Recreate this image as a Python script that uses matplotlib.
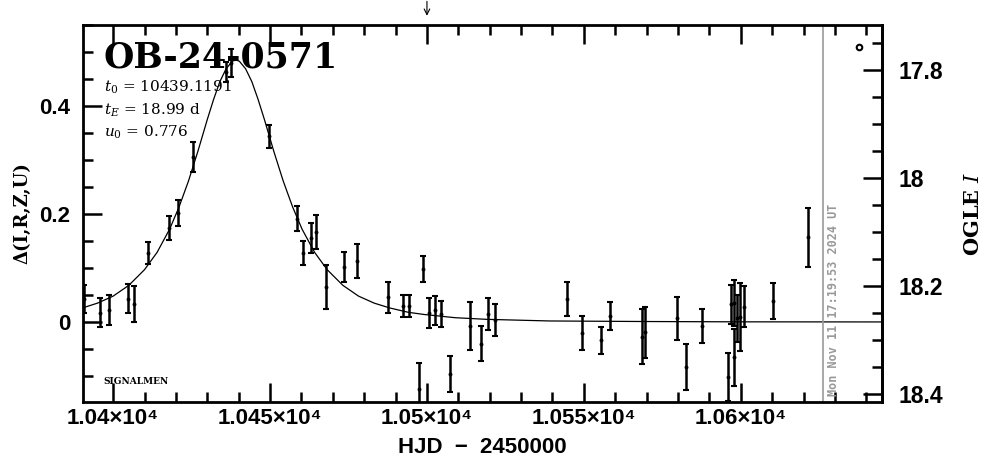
import matplotlib
matplotlib.use('Agg')
import matplotlib.pyplot as plt
from matplotlib.ticker import MultipleLocator

# OGLE photometry: HJD-2450000, delta (mag above baseline), error
hjd = [10390.8, 10395.9, 10398.7, 10404.8, 10406.7, 10411.1, 10417.8, 10420.7,
       10425.5, 10436.0, 10437.6, 10449.7, 10458.6, 10460.5, 10463.1, 10464.6,
       10467.8, 10473.6, 10477.7, 10487.6, 10492.4, 10494.3, 10497.5, 10498.7,
       10500.6, 10502.5, 10504.5, 10507.3, 10513.7, 10517.2, 10519.4, 10521.7,
       10544.6, 10549.4, 10555.4, 10558.3, 10568.5, 10569.4, 10579.6, 10582.5,
       10587.6, 10595.9, 10596.8, 10597.8, 10597.9, 10598.9, 10599.9, 10601.0,
       10610.2, 10621.3]
delta = [0.043, 0.017, 0.022, 0.043, 0.033, 0.128, 0.174, 0.202,
         0.306, 0.463, 0.480, 0.344, 0.191, 0.128, 0.156, 0.167,
         0.065, 0.102, 0.113, 0.046, 0.030, 0.030, -0.124, 0.098,
         0.017, 0.022, 0.015, -0.096, -0.007, -0.040, 0.015, 0.004,
         0.043, -0.020, -0.034, 0.011, -0.027, -0.019, 0.007, -0.083,
         -0.007, -0.102, 0.033, 0.035, -0.065, 0.007, 0.009, 0.028,
         0.039, 0.157]
delta_err = [0.026, 0.027, 0.028, 0.027, 0.033, 0.021, 0.023, 0.024,
             0.028, 0.019, 0.026, 0.021, 0.023, 0.022, 0.028, 0.032,
             0.041, 0.027, 0.032, 0.029, 0.020, 0.020, 0.048, 0.024,
             0.028, 0.027, 0.024, 0.034, 0.045, 0.032, 0.030, 0.029,
             0.031, 0.031, 0.025, 0.026, 0.051, 0.047, 0.040, 0.043,
             0.031, 0.045, 0.036, 0.042, 0.053, 0.044, 0.063, 0.038,
             0.033, 0.055]

# model curve
model_t = [10389.1, 10395.0, 10400.0, 10405.0, 10410.0, 10414.0, 10418.0, 10421.0,
           10424.0, 10427.0, 10430.0, 10432.0, 10434.0, 10436.0, 10438.0, 10439.1,
           10440.2, 10442.2, 10444.2, 10446.2, 10448.2, 10451.2, 10454.2, 10457.2,
           10460.2, 10464.2, 10468.2, 10473.2, 10478.2, 10483.2, 10488.2, 10494.1,
           10499.1, 10504.1, 10509.1, 10519.1, 10539.1, 10569.1, 10599.1, 10645.0]
model_d = [0.024, 0.035, 0.048, 0.068, 0.097, 0.129, 0.172, 0.213,
           0.261, 0.316, 0.375, 0.412, 0.445, 0.469, 0.483, 0.485,
           0.483, 0.469, 0.445, 0.412, 0.375, 0.316, 0.261, 0.213,
           0.172, 0.129, 0.097, 0.068, 0.048, 0.035, 0.026, 0.018,
           0.014, 0.011, 0.008, 0.005, 0.002, 0.001, 0.0004, 0.0002]

event = 'OB-24-0571'
params = ['$t_0$ = 10439.1191', '$t_E$ = 18.99 d', '$u_0$ = 0.776']
xticks = [10400, 10450, 10500, 10550, 10600]
xtick_labels = ['1.04×10⁴', '1.045×10⁴', '1.05×10⁴', '1.055×10⁴', '1.06×10⁴']
yticks = [0, 0.2, 0.4]
ytick_labels = ['0', '0.2', '0.4']
magticks = [17.8, 18.0, 18.2, 18.4]
magtick_labels = ['17.8', '18', '18.2', '18.4']
base_mag = 18.267
now_hjd = 10626.2
now_label = 'Mon Nov 11 17:19:53 2024 UT'
arrow_hjd = 10500

plt.rcParams['font.family'] = ['Liberation Sans', 'DejaVu Sans']
plt.rcParams['mathtext.fontset'] = 'dejavuserif'

fig = plt.figure(figsize=(9.86, 4.59), dpi=100)
ax = fig.add_axes([0.0842, 0.1242, 0.8103, 0.8214])

ax.plot(model_t, model_d, color='k', lw=0.9)
ax.errorbar(hjd, delta, yerr=delta_err, fmt='o', ms=1.8, color='k',
            elinewidth=1.8, capsize=2, capthick=1.5)

ax.set_xlim(10390.4, 10645.0)
ax.set_ylim(-0.148, 0.55)

ax.axvline(now_hjd, color='#999999', lw=1.2)
ax.text(now_hjd + 1.2, -0.136, now_label, rotation=90, color='#999999',
        fontsize=8.5, fontweight='bold', family='DejaVu Sans Mono',
        ha='left', va='bottom')

ax.annotate('', xy=(arrow_hjd, 1.017), xycoords=('data', 'axes fraction'),
            xytext=(arrow_hjd, 1.07), textcoords=('data', 'axes fraction'),
            arrowprops=dict(arrowstyle='->', lw=0.8, color='k'))
ax.plot([0.971], [0.942], 'o', ms=4, mfc='white', mec='k', mew=1.5,
        transform=ax.transAxes, clip_on=False)

ax.text(0.026, 0.886, event, transform=ax.transAxes, fontsize=25,
        fontweight='bold', family='DejaVu Serif', va='baseline')
for i, p in enumerate(params):
    ax.text(0.026, 0.822 - i * 0.059, p, transform=ax.transAxes,
            fontsize=11, family='DejaVu Serif', va='baseline')
ax.text(0.026, 0.048, 'SIGNALMEN', transform=ax.transAxes, fontsize=6.5,
        fontweight='bold', family='DejaVu Serif', va='baseline')

ax.set_xticks(xticks)
ax.set_xticklabels(xtick_labels)
ax.xaxis.set_minor_locator(MultipleLocator(10))
ax.set_yticks(yticks)
ax.set_yticklabels(ytick_labels)
ax.yaxis.set_minor_locator(MultipleLocator(0.05))
ax.tick_params(which='both', direction='in', top=True, right=False, width=1.8,
               labelsize=16, pad=9)
ax.tick_params(axis='x', pad=4)
ax.tick_params(which='major', length=14)
ax.tick_params(which='minor', length=7)
for lab in ax.get_xticklabels() + ax.get_yticklabels():
    lab.set_fontweight('bold')
for s in ax.spines.values():
    s.set_linewidth(2)

sec = ax.secondary_yaxis('right', functions=(lambda d: base_mag - d,
                                             lambda m: base_mag - m))
sec.set_yticks(magticks)
sec.set_yticklabels(magtick_labels)
sec.yaxis.set_minor_locator(MultipleLocator(0.05))
sec.tick_params(which='both', direction='in', width=1.8, labelsize=16.5, pad=12)
sec.tick_params(which='major', length=14)
sec.tick_params(which='minor', length=7)
for lab in sec.get_yticklabels():
    lab.set_fontweight('bold')
sec.spines['right'].set_linewidth(2)
sec.set_ylabel('OGLE $\\mathit{I}$', fontsize=15, fontweight='bold',
               family='DejaVu Serif', labelpad=14)

ax.set_ylabel('Δ(I,R,Z,U)', fontsize=13, fontweight='bold',
              family='DejaVu Serif', labelpad=6)
ax.set_xlabel('HJD  −  2450000', fontsize=16, fontweight='bold', labelpad=6)

fig.savefig('out.png', dpi=100)
